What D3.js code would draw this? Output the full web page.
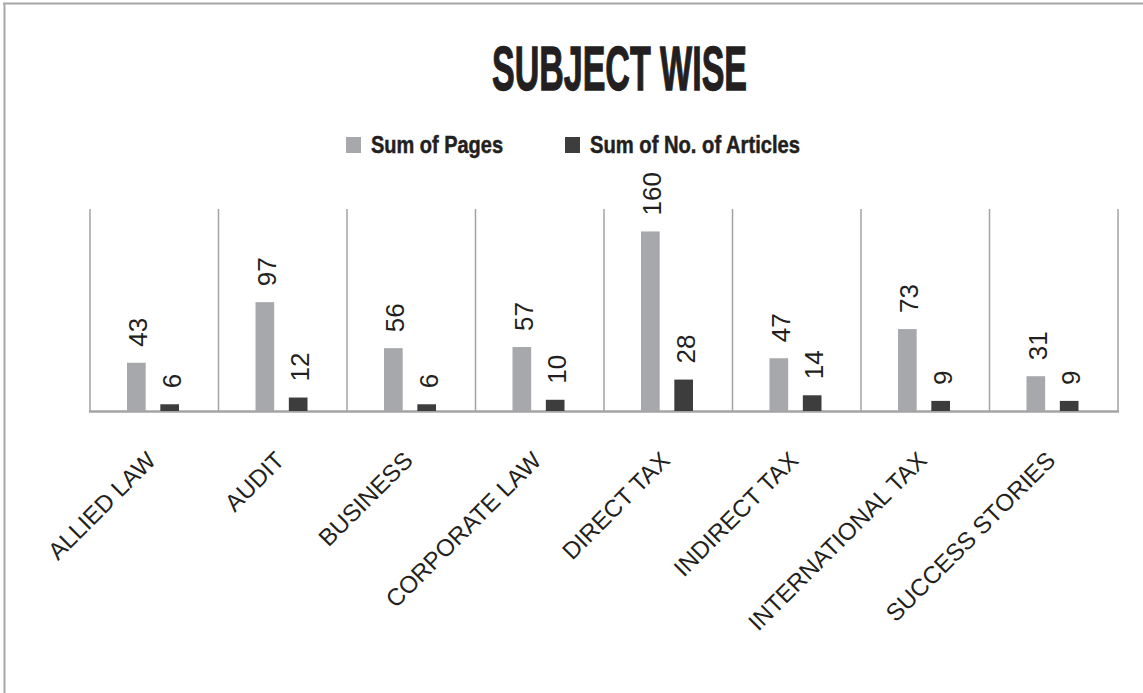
<!DOCTYPE html>
<html>
<head>
<meta charset="utf-8">
<script src="https://cdn.jsdelivr.net/npm/d3@7"></script>
<style>
  body { margin: 0; background: #fff; }
  svg { display: block; }
</style>
</head>
<body>
<svg width="1143" height="693"></svg>
<script>
// data
var categories = ["ALLIED LAW", "AUDIT", "BUSINESS", "CORPORATE LAW", "DIRECT TAX", "INDIRECT TAX", "INTERNATIONAL TAX", "SUCCESS STORIES"];
var pages = [43, 97, 56, 57, 160, 47, 73, 31];
var articles = [6, 12, 6, 10, 28, 14, 9, 9];
var seriesNames = ["Sum of Pages", "Sum of No. of Articles"];
var seriesColors = ["#a7a8ab", "#3d3d3d"];

var svg = d3.select("svg"),
    margin = { top: 209, right: 25, bottom: 282, left: 90 },
    width = +svg.attr("width") - margin.left - margin.right,
    height = +svg.attr("height") - margin.top - margin.bottom;

var ink = "#231f20",
    gridColor = "#a3a3a3";

// outer frame (top and left edges visible)
svg.append("line")
    .attr("x1", 3).attr("x2", 1143).attr("y1", 3.5).attr("y2", 3.5)
    .attr("stroke", "#a8a8a8").attr("stroke-width", 2);
svg.append("line")
    .attr("x1", 4.5).attr("x2", 4.5).attr("y1", 3).attr("y2", 693)
    .attr("stroke", "#a8a8a8").attr("stroke-width", 2);

var x0 = d3.scaleBand()
    .domain(categories)
    .range([0, width]);

var x1 = d3.scaleBand()
    .domain(seriesNames)
    .range([37, 89])
    .paddingInner(0.44);

var y = d3.scaleLinear()
    .domain([0, 180])
    .range([height, 0]);

var g = svg.append("g")
    .attr("transform", "translate(" + margin.left + "," + margin.top + ")");

// category separators
g.selectAll(".sep")
    .data(categories.concat(["end"]))
    .enter().append("line")
    .attr("class", "sep")
    .attr("x1", function(d, i) { return i * x0.step(); })
    .attr("x2", function(d, i) { return i * x0.step(); })
    .attr("y1", 0)
    .attr("y2", height)
    .attr("stroke", gridColor)
    .attr("stroke-width", 1.5);

// baseline
g.append("line")
    .attr("x1", -1).attr("x2", width + 1)
    .attr("y1", height + 0.5).attr("y2", height + 0.5)
    .attr("stroke", gridColor)
    .attr("stroke-width", 2.5);

var rows = categories.map(function(c, i) {
    return { cat: c, values: [pages[i], articles[i]] };
});

var groups = g.selectAll(".grp")
    .data(rows)
    .enter().append("g")
    .attr("class", "grp")
    .attr("transform", function(d) { return "translate(" + x0(d.cat) + ",0)"; });

groups.selectAll("rect")
    .data(function(d) { return d.values.map(function(v, j) { return { s: seriesNames[j], v: v, j: j }; }); })
    .enter().append("rect")
    .attr("x", function(d) { return x1(d.s); })
    .attr("y", function(d) { return y(d.v); })
    .attr("width", x1.bandwidth())
    .attr("height", function(d) { return height - y(d.v); })
    .style("fill", function(d) { return seriesColors[d.j]; });

// value labels, rotated
groups.selectAll(".val")
    .data(function(d) { return d.values.map(function(v, j) { return { s: seriesNames[j], v: v }; }); })
    .enter().append("text")
    .attr("class", "val")
    .attr("transform", function(d) {
        return "translate(" + (x1(d.s) + x1.bandwidth() / 2 + 11) + "," + (y(d.v) - 16) + ") rotate(-90)";
    })
    .attr("text-anchor", "start")
    .style("font-family", "Liberation Sans, Arial, sans-serif")
    .style("font-size", "26px")
    .style("fill", ink)
    .text(function(d) { return d.v; });

// category labels
g.append("g")
    .attr("transform", "translate(0," + height + ")")
    .call(d3.axisBottom(x0).tickSize(0).tickPadding(0))
    .call(function(ax) { ax.select(".domain").remove(); })
    .selectAll("text")
    .attr("y", 0)
    .attr("dy", 0)
    .attr("transform", "translate(3,51) rotate(-45)")
    .style("text-anchor", "end")
    .style("font-family", "Liberation Sans, Arial, sans-serif")
    .style("font-size", "24px")
    .style("fill", ink);

// title
svg.append("text")
    .attr("x", 492)
    .attr("y", 90)
    .attr("textLength", 255)
    .attr("lengthAdjust", "spacingAndGlyphs")
    .style("font-family", "Liberation Sans Narrow, Liberation Sans, Arial, sans-serif")
    .style("font-weight", "bold")
    .style("font-size", "63px")
    .style("fill", ink)
    .style("stroke", ink)
    .style("stroke-width", 1.3)
    .text("SUBJECT WISE");

// legend
var legendX = [346, 565],
    legendW = [132, 210];
var legend = svg.selectAll(".legend")
    .data(seriesNames)
    .enter().append("g")
    .attr("class", "legend")
    .attr("transform", function(d, i) { return "translate(" + legendX[i] + ",137)"; });

legend.append("rect")
    .attr("width", 15)
    .attr("height", 16)
    .style("fill", function(d, i) { return seriesColors[i]; });

legend.append("text")
    .attr("x", 25)
    .attr("y", 16)
    .attr("textLength", function(d, i) { return legendW[i]; })
    .attr("lengthAdjust", "spacingAndGlyphs")
    .style("font-family", "Liberation Sans Narrow, Liberation Sans, Arial, sans-serif")
    .style("font-weight", "bold")
    .style("font-size", "24px")
    .style("fill", ink)
    .style("stroke", ink)
    .style("stroke-width", 0.5)
    .text(function(d) { return d; });
</script>
</body>
</html>
